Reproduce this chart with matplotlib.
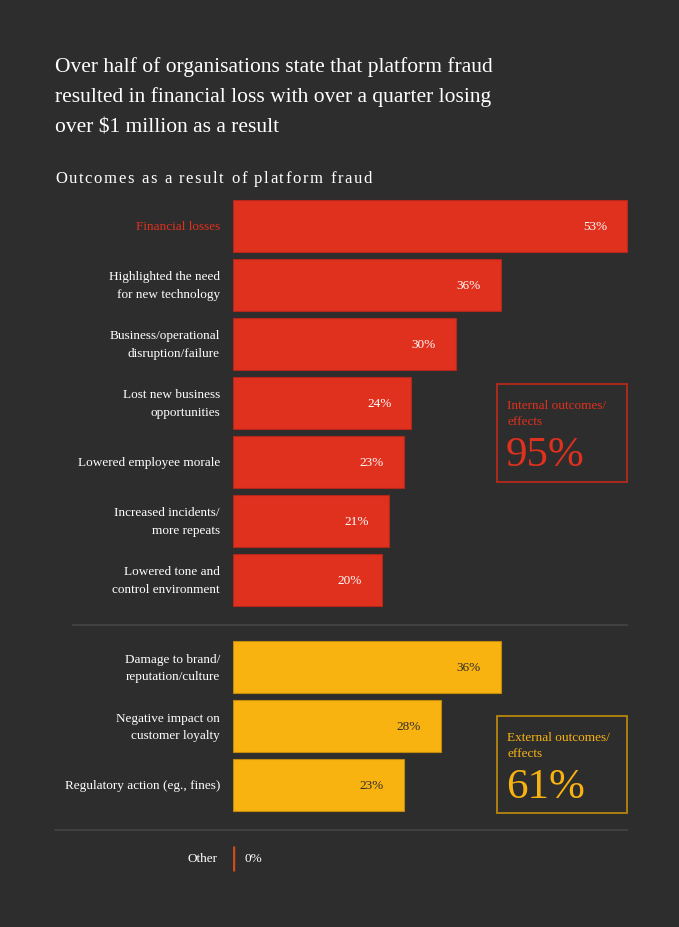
"""Outcomes of platform fraud: horizontal bars, internal vs external groups."""

import matplotlib.pyplot as plt
from matplotlib.patches import Rectangle
from matplotlib.lines import Line2D

plt.rcParams["font.family"] = ["Liberation Serif", "DejaVu Serif"]

BG = "#2d2d2d"
RED = "#e0301e"
RED_EDGE = "#b3281b"
GOLD = "#f9b311"
GOLD_EDGE = "#c08a0c"
OTHER_C = "#d04a1b"

title_lines = [
    "Over half of organisations state that platform fraud",
    "resulted in financial loss with over a quarter losing",
    "over $1 million as a result",
]
subtitle = "Outcomes as a result of platform fraud"

internal_labels = [
    "Financial losses",
    "Highlighted the need\nfor new technology",
    "Business/operational\ndisruption/failure",
    "Lost new business\nopportunities",
    "Lowered employee morale",
    "Increased incidents/\nmore repeats",
    "Lowered tone and\ncontrol environment",
]
internal_values = [53, 36, 30, 24, 23, 21, 20]

external_labels = [
    "Damage to brand/\nreputation/culture",
    "Negative impact on\ncustomer loyalty",
    "Regulatory action (eg., fines)",
]
external_values = [36, 28, 23]

other_label = "Other"
other_value = 0

internal_total = 95
external_total = 61

W, H = 679, 928


def fx(px):
    return px / W


def fy(py):
    return 1 - py / H


def tracked_text(fig, x_px, y_px, s, tracking_px, **kw):
    # draw string one glyph at a time with extra letter spacing
    r = fig.canvas.get_renderer()
    x = x_px
    for ch in s:
        t = fig.text(fx(x), fy(y_px), ch, **kw)
        if ch == " ":
            w = t.get_fontsize() * 100 / 72 * 0.25
        else:
            w = t.get_window_extent(renderer=r).width
        x += w + tracking_px


fig = plt.figure(figsize=(W / 100, H / 100), dpi=100, facecolor=BG)

# bar area: one row pitch is 59 px
y_int = list(range(len(internal_values)))
y_ext = [7.48 + i for i in range(len(external_values))]
y_other = 10.72
top_px, pitch = 227 - 29.5, 59
ymax = 11.19
ax = fig.add_axes([fx(233), fy(top_px + (ymax + 0.5) * pitch), fx(W - 233),
                   (ymax + 0.5) * pitch / H])
ax.set_facecolor("none")
ax.set_xlim(0, 60)
ax.set_ylim(ymax, -0.5)
ax.axis("off")

PAD = 2.7  # value label inset, data units
bh = 0.88
LS = 1.6

ax.barh(y_int, internal_values, height=bh, color=RED, edgecolor=RED_EDGE, linewidth=0.8)
for y, v, lab in zip(y_int, internal_values, internal_labels):
    ax.text(v - PAD, y, f"{v}%", ha="right", va="center", color="white", fontsize=9.5)
    ax.text(-1.75, y, lab, ha="right", va="center", fontsize=9.5,
            color=RED if lab == "Financial losses" else "white", linespacing=LS)

ax.barh(y_ext, external_values, height=bh, color=GOLD, edgecolor=GOLD_EDGE, linewidth=0.8)
for y, v, lab in zip(y_ext, external_values, external_labels):
    ax.text(v - PAD, y, f"{v}%", ha="right", va="center", color="#2d2d2d", fontsize=9.5)
    ax.text(-1.75, y, lab, ha="right", va="center", fontsize=9.5, color="white",
            linespacing=LS)

ax.barh([y_other], [other_value], height=0.41, color=OTHER_C, edgecolor=OTHER_C, linewidth=2.5)
ax.text(1.6, y_other, f"{other_value}%", ha="left", va="center", color="white", fontsize=9.5)
ax.text(-2.15, y_other, other_label, ha="right", va="center", color="white", fontsize=9.5)

# separators
fig.add_artist(Line2D([fx(73), fx(627)], [fy(626), fy(626)], color="#444444", lw=1.2))
fig.add_artist(Line2D([fx(55), fx(627)], [fy(831), fy(831)], color="#444444", lw=1.2))

# summary boxes
for (x0, y0, x1, y1), col, edge, txt, tot in [
    ((497, 385, 627, 483), RED, "#b8291c", "Internal outcomes/\neffects", internal_total),
    ((497, 717, 627, 814), GOLD, "#b8860f", "External outcomes/\neffects", external_total),
]:
    fig.add_artist(Rectangle((fx(x0), fy(y1)), fx(x1 - x0), (y1 - y0) / H,
                             fill=False, edgecolor=edge, lw=1.3))
    fig.text(fx(x0 + 10), fy(y0 + 15), txt, ha="left", va="top", color=col,
             fontsize=9.5, linespacing=1.4)
    fig.text(fx(x0 + 9), fy(y0 + 81), f"{tot}%", ha="left", va="baseline", color=col,
             fontsize=31)

# titles (one text per line so the spacing stays even)
for i, line in enumerate(title_lines):
    fig.text(fx(55), fy(72 + 30 * i), line, ha="left", va="baseline",
             color="white", fontsize=15.5)
tracked_text(fig, 55, 183, subtitle, 1.6,
             ha="left", va="baseline", color="white", fontsize=12)

fig.savefig("out.png", dpi=100, facecolor=BG)
